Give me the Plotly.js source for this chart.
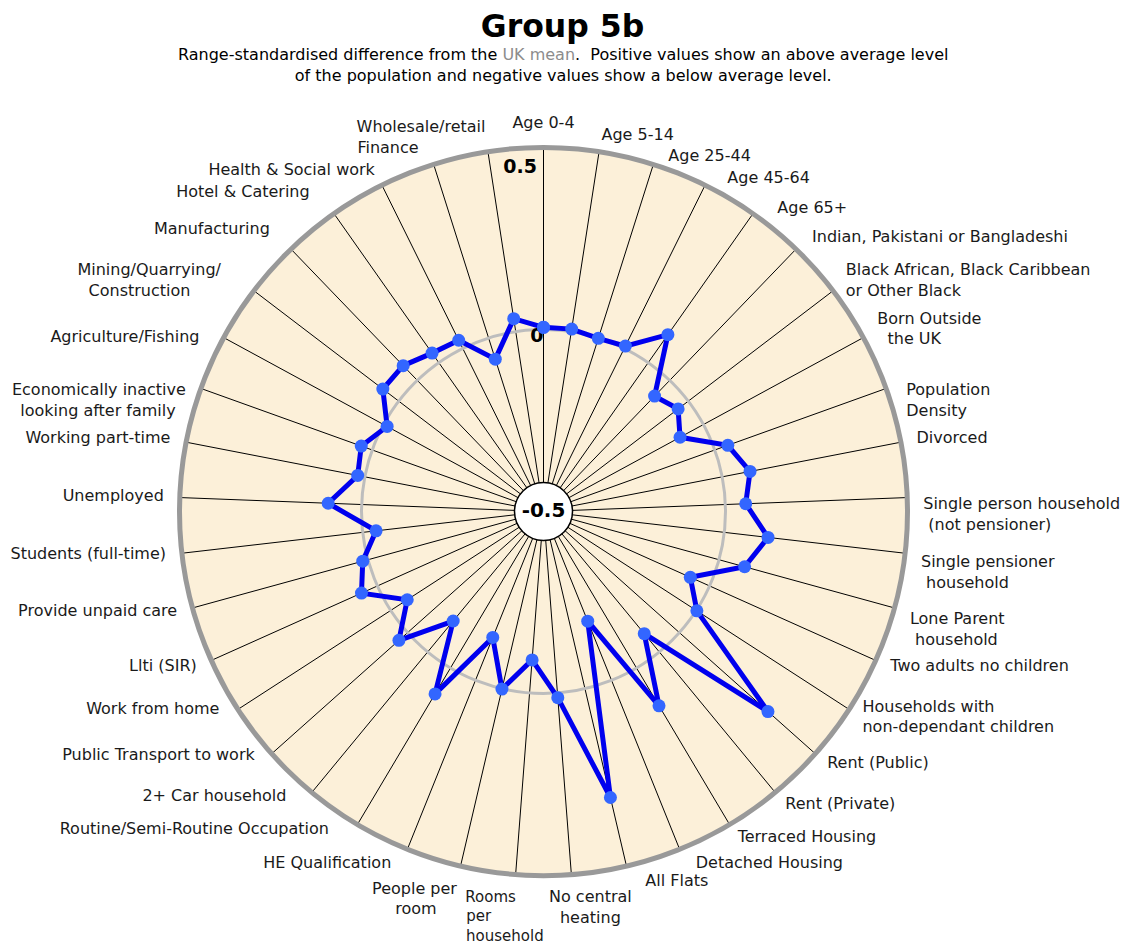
<!DOCTYPE html>
<html><head><meta charset="utf-8">
<script src="https://cdn.plot.ly/plotly-3.0.1.min.js"></script>
<style>html,body{margin:0;padding:0;background:#fff}#chart{width:1125px;height:945px}</style>
</head><body><div id="chart"></div>
<script>
const NB = n => "\u00a0".repeat(n);
// category names (clockwise from the top)
const categories = [
  "Age 0-4", "Age 5-14", "Age 25-44", "Age 45-64", "Age 65+",
  "Indian, Pakistani or Bangladeshi",
  "Black African, Black Caribbean or Other Black",
  "Born Outside the UK", "Population Density", "Divorced",
  "Single person household (not pensioner)",
  "Single pensioner household", "Lone Parent household",
  "Two adults no children", "Households with non-dependant children",
  "Rent (Public)", "Rent (Private)", "Terraced Housing", "Detached Housing",
  "All Flats", "No central heating", "Rooms per household",
  "People per room", "HE Qualification", "Routine/Semi-Routine Occupation",
  "2+ Car household", "Public Transport to work", "Work from home",
  "Llti (SIR)", "Provide unpaid care", "Students (full-time)", "Unemployed",
  "Working part-time", "Economically inactive looking after family",
  "Agriculture/Fishing", "Mining/Quarrying/Construction", "Manufacturing",
  "Hotel & Catering", "Health & Social work", "Finance", "Wholesale/retail"
];
// how each category label is written on the chart
const labelText = [
  "Age 0-4", "Age 5-14", NB(2) + "Age 25-44", NB(3) + "Age 45-64", NB(3) + "Age 65+",
  NB(1) + "Indian, Pakistani or Bangladeshi",
  "Black African, Black Caribbean<br>or Other Black",
  "Born Outside<br>" + NB(2) + "the UK",
  NB(1) + "Population<br>" + NB(1) + "Density", "Divorced",
  "Single person household<br>" + NB(1) + "(not pensioner)",
  "Single pensioner<br>" + NB(1) + "household", "Lone Parent<br>" + NB(1) + "household",
  "Two adults no children", "Households with<br>non-dependant children",
  "Rent (Public)", "Rent (Private)", "Terraced Housing", NB(2) + "Detached Housing",
  NB(3) + "All Flats",
  NB(7) + "No central<br>" + NB(7) + "heating",
  "Rooms" + NB(10) + "<br>per" + NB(15) + "<br>household" + NB(4),
  "People per<br>room" + NB(4), "HE Qualification" + NB(2),
  "Routine/Semi-Routine Occupation" + NB(4),
  "2+ Car household" + NB(3), "Public Transport to work" + NB(1), "Work from home" + NB(1),
  "Llti (SIR)", "Provide unpaid care", "Students (full-time)", "Unemployed",
  "Working part-time", "Economically inactive<br>looking after family" + NB(2),
  "Agriculture/Fishing" + NB(2), "Mining/Quarrying/" + NB(4) + "<br>Construction" + NB(10),
  "Manufacturing" + NB(2),
  "Hotel & Catering" + NB(3), "Health & Social work", "Finance" + NB(2), "Wholesale/retail"
];
const values = [
  0.006, 0.007, -0.001, 0.007, 0.094,
  -0.060, -0.035, -0.073, 0.038, 0.078,
  0.056, 0.121, 0.073, -0.058, 0.002,
  0.326, -0.065, 0.121, -0.175, 0.307,
  0.013, -0.091, 0.001, -0.127, 0.083,
  -0.110, 0.032, -0.054, 0.048, 0.015,
  -0.037, 0.092, 0.020, 0.032, -0.011,
  0.055, 0.056, 0.032, 0.025, -0.061, 0.036
];
const radialRange = [-0.5, 0.5];
const radialLabels = ["0.5" + NB(1), "0"];
const radialLabelValues = [0.47, 0.006];
const centerLabel = "-0.5";

const FONT = "DejaVu Sans, Verdana, sans-serif";
const N = categories.length;

// where each label sits relative to its anchor point
const posOverride = {
  0: "top center", 2: "bottom right", 3: "bottom right", 4: "bottom right",
  8: "bottom right", 10: "bottom right", 11: "bottom right", 12: "bottom right",
  24: "top left", 25: "top left", 26: "top left", 27: "top left",
  33: "bottom left", 34: "bottom left", 36: "top left", 37: "top left",
  40: "top left"
};
const labelPos = categories.map((c, i) => {
  if (posOverride[i]) return posOverride[i];
  const a = i * 360 / N;
  if (a > 172 && a < 188) return "bottom center";
  if (a >= 188 && a < 200) return "bottom left";
  return a < 180 ? "middle right" : "middle left";
});
const labelSize = categories.map((c, i) => (i === 21 ? 15 : 16));

const closedTheta = categories.concat([categories[0]]);
const closedR = values.concat([values[0]]);

const traces = [
  {
    type: "scatterpolar", subplot: "polar", mode: "text",
    r: radialLabelValues, theta: [categories[0], categories[0]],
    text: radialLabels.map(t => "<b>" + t + "</b>"),
    textposition: "bottom left",
    textfont: {family: FONT, size: 19, color: "#000"},
    hoverinfo: "skip", showlegend: false
  },
  {
    type: "scatterpolar", subplot: "polar", mode: "lines+markers",
    r: closedR, theta: closedTheta,
    line: {color: "#0000ee", width: 5},
    marker: {color: "#3366ff", size: 13},
    hoverinfo: "skip", showlegend: false
  },
  {
    type: "scatterpolar", subplot: "polar", mode: "markers+text",
    r: [radialRange[0]], theta: [categories[0]],
    marker: {color: "#ffffff", size: 58, line: {color: "#000", width: 1.5}},
    text: ["<b>" + centerLabel + "</b>"], textposition: "middle center",
    textfont: {family: FONT, size: 20, color: "#000"},
    hoverinfo: "skip", showlegend: false, cliponaxis: false
  },
  {
    type: "scatterpolar", subplot: "polar2", mode: "text",
    r: categories.map(() => 1), theta: categories,
    text: labelText, textposition: labelPos,
    textfont: {family: FONT, size: labelSize, color: "#1a1a1a"},
    hoverinfo: "skip", showlegend: false, cliponaxis: false
  }
];

const hiddenAngular = {
  type: "category", direction: "clockwise", rotation: 90,
  categoryorder: "array", categoryarray: categories,
  showline: false, showgrid: false, showticklabels: false, ticks: ""
};

const layout = {
  width: 1125, height: 945,
  margin: {l: 0, r: 0, t: 0, b: 0},
  paper_bgcolor: "#ffffff",
  font: {family: FONT, color: "#1a1a1a"},
  title: {
    text: "<b>Group 5b</b>", x: 0.5, xanchor: "center",
    y: 0.972, yanchor: "middle",
    font: {family: FONT, size: 31.5, color: "#000"}
  },
  annotations: [{
    xref: "paper", yref: "paper", x: 0.5, y: 0.9317,
    xanchor: "center", yanchor: "middle", showarrow: false,
    text: "Range-standardised difference from the <span style=\"color:#8c8c8c\">UK mean</span>.\u00a0 Positive values show an above average level<br>of the population and negative values show a below average level.",
    font: {family: FONT, size: 16, color: "#000"}
  }],
  polar: {
    domain: {x: [0.15956, 0.80667], y: [0.07354, 0.84392]},
    bgcolor: "#fcf0d9",
    gridshape: "circular",
    angularaxis: {
      type: "category", direction: "clockwise", rotation: 90,
      categoryorder: "array", categoryarray: categories,
      showline: true, linecolor: "#999999", linewidth: 5,
      showgrid: true, gridcolor: "#000000", gridwidth: 1,
      ticks: "", showticklabels: false
    },
    radialaxis: {
      range: radialRange, angle: 90,
      showline: false, ticks: "", showticklabels: false,
      tickvals: [0], showgrid: true, gridcolor: "#bdbdbd", gridwidth: 3
    }
  },
  polar2: {
    domain: {x: [0.12844, 0.83778], y: [0.03651, 0.88095]},
    bgcolor: "rgba(0,0,0,0)",
    angularaxis: hiddenAngular,
    radialaxis: {range: [0, 1.05], showline: false, showgrid: false,
                 showticklabels: false, ticks: ""}
  }
};

Plotly.newPlot("chart", traces, layout, {displayModeBar: false, staticPlot: true});
</script></body></html>
